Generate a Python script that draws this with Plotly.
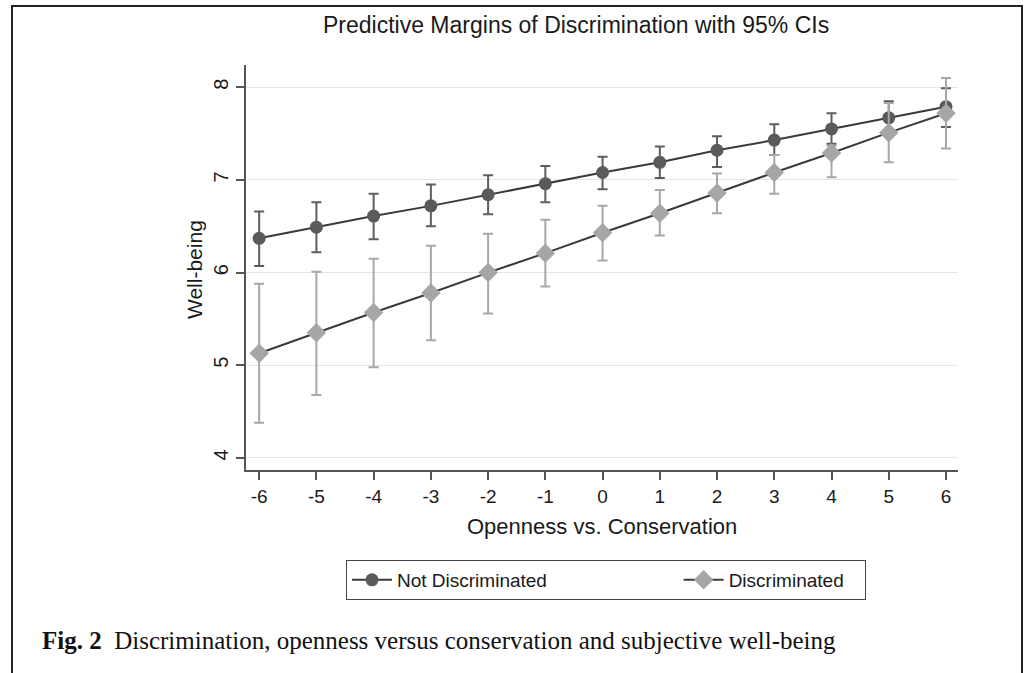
import plotly.graph_objects as go

x_vals = [-6, -5, -4, -3, -2, -1, 0, 1, 2, 3, 4, 5, 6]
x_tick_labels = ["-6", "-5", "-4", "-3", "-2", "-1", "0", "1", "2", "3", "4", "5", "6"]
y_tick_vals = [4, 5, 6, 7, 8]

not_disc = [6.37, 6.49, 6.61, 6.72, 6.84, 6.96, 7.08, 7.19, 7.32, 7.43, 7.55, 7.67, 7.79]
not_disc_hi = [6.66, 6.76, 6.85, 6.95, 7.05, 7.15, 7.25, 7.36, 7.47, 7.60, 7.72, 7.85, 7.99]
not_disc_lo = [6.07, 6.22, 6.36, 6.50, 6.63, 6.76, 6.90, 7.02, 7.14, 7.27, 7.39, 7.49, 7.57]

disc = [5.13, 5.35, 5.57, 5.78, 6.00, 6.21, 6.43, 6.64, 6.86, 7.08, 7.29, 7.51, 7.72]
disc_hi = [5.88, 6.01, 6.15, 6.29, 6.42, 6.57, 6.72, 6.89, 7.07, 7.27, 7.37, 7.83, 8.10]
disc_lo = [4.38, 4.68, 4.98, 5.27, 5.56, 5.85, 6.13, 6.40, 6.64, 6.85, 7.03, 7.19, 7.34]

NBSP = "\u00a0"

fig = go.Figure()

def add_series(name, y, hi, lo, mcolor, ecolor, symbol, msize):
    fig.add_trace(go.Scatter(
        x=x_vals, y=y, name=name, mode="lines+markers",
        line=dict(color="#3a3a3a", width=2),
        marker=dict(color=mcolor, symbol=symbol, size=msize, line=dict(width=0)),
        error_y=dict(type="data", symmetric=False,
                     array=[h - v for h, v in zip(hi, y)],
                     arrayminus=[v - l for v, l in zip(y, lo)],
                     color=ecolor, thickness=2, width=5),
    ))

add_series("Not Discriminated" + NBSP * 24, not_disc, not_disc_hi, not_disc_lo, "#5a5a5a", "#5e5e5e", "circle", 13)
add_series("Discriminated" + NBSP * 3, disc, disc_hi, disc_lo, "#a6a6a6", "#a8a8a8", "diamond", 15)

L, R, T, B = 246, 70, 65, 203
W, H = 1028, 673
pw, ph = W - L - R, H - T - B

def px(xp):
    return (xp - L) / pw

def py(yp):
    return (H - B - yp) / ph

fig.update_layout(
    width=W, height=H,
    margin=dict(l=L, r=R, t=T, b=B, autoexpand=False),
    paper_bgcolor="white", plot_bgcolor="white",
    font=dict(family="Liberation Sans, Arial, sans-serif", color="#1a1a1a"),
    showlegend=True,
    legend=dict(orientation="h", x=px(606), y=py(580), xanchor="center", yanchor="middle",
                bordercolor="#444", borderwidth=1, bgcolor="white",
                font=dict(size=19, color="#1a1a1a"), itemwidth=40, tracegroupgap=0),
    xaxis=dict(range=[-6.23, 6.21], tickvals=x_vals, ticktext=x_tick_labels,
               showgrid=False, zeroline=False, showline=True, linecolor="#555", linewidth=1.5,
               ticks="outside", ticklen=8, tickcolor="#555", tickwidth=1.5,
               tickfont=dict(size=19, color="#1a1a1a")),
    yaxis=dict(range=[3.87, 8.24], tickvals=y_tick_vals, ticktext=[str(v) for v in y_tick_vals],
               showgrid=True, gridcolor="#e6e6e6", gridwidth=1, zeroline=False,
               showline=True, linecolor="#555", linewidth=1.5,
               ticks="outside", ticklen=8, tickcolor="#555", tickwidth=1.5, tickangle=-90,
               tickfont=dict(size=20, color="#1a1a1a")),
)

fig.add_annotation(text="Predictive Margins of Discrimination with 95% CIs",
                   xref="paper", yref="paper", x=px(576), y=py(25), xanchor="center", yanchor="middle",
                   showarrow=False, font=dict(size=23, color="#1a1a1a"))
fig.add_annotation(text="Well-being", xref="paper", yref="paper", x=px(194), y=py(270),
                   xanchor="center", yanchor="middle", textangle=-90, showarrow=False,
                   font=dict(size=21, color="#1a1a1a"))
fig.add_annotation(text="Openness vs. Conservation", xref="paper", yref="paper", x=px(602), y=py(526),
                   xanchor="center", yanchor="middle", showarrow=False,
                   font=dict(size=22, color="#1a1a1a"))
fig.add_annotation(text="<b>Fig. 2</b>  Discrimination, openness versus conservation and subjective well-being",
                   xref="paper", yref="paper", x=px(40), y=py(640), xanchor="left", yanchor="middle",
                   showarrow=False, font=dict(family="Liberation Serif, Times New Roman, serif", size=25, color="#111"))

fig.add_shape(type="rect", xref="paper", yref="paper", x0=px(12), x1=px(1022), y0=py(690), y1=py(6),
              line=dict(color="#222", width=2), fillcolor="rgba(0,0,0,0)", layer="below")

fig.write_html("out.html", config={"displayModeBar": False},
               post_script="document.body.style.margin='0';document.body.style.overflow='hidden';")
